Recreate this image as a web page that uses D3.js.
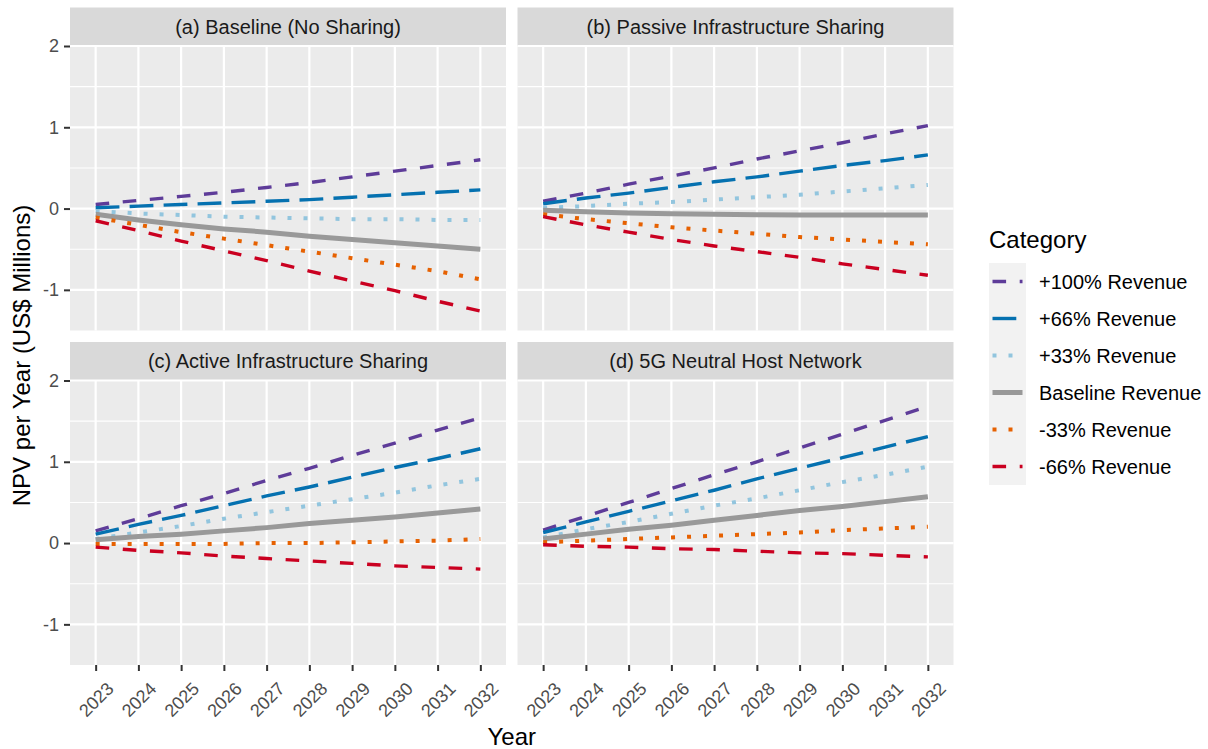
<!DOCTYPE html>
<html>
<head>
<meta charset="utf-8">
<script src="https://cdn.jsdelivr.net/npm/d3@7"></script>
<style>
  body { margin: 0; background: #fff; }
  text { font-family: "Liberation Sans", Arial, Helvetica, sans-serif; }
</style>
</head>
<body>
<div id="chart-area"></div>
<script>
// data
var years = [2023, 2024, 2025, 2026, 2027, 2028, 2029, 2030, 2031, 2032];
var categories = ["+100% Revenue", "+66% Revenue", "+33% Revenue", "Baseline Revenue", "-33% Revenue", "-66% Revenue"];
var panelTitles = ["(a) Baseline (No Sharing)", "(b) Passive Infrastructure Sharing",
                   "(c) Active Infrastructure Sharing", "(d) 5G Neutral Host Network"];
var yTicks = [-1, 0, 1, 2];

// one row per category, in the order of categories
var panelA = [
  [0.05, 0.10, 0.15, 0.20, 0.26, 0.32, 0.39, 0.46, 0.53, 0.60],
  [0.01, 0.03, 0.05, 0.07, 0.09, 0.11, 0.14, 0.17, 0.20, 0.23],
  [-0.03, -0.06, -0.08, -0.10, -0.11, -0.12, -0.13, -0.13, -0.14, -0.14],
  [-0.07, -0.14, -0.20, -0.25, -0.29, -0.34, -0.38, -0.42, -0.46, -0.50],
  [-0.11, -0.20, -0.29, -0.37, -0.45, -0.53, -0.61, -0.69, -0.77, -0.87],
  [-0.15, -0.27, -0.40, -0.52, -0.64, -0.77, -0.89, -1.01, -1.14, -1.26]
];
var panelB = [
  [0.09, 0.19, 0.30, 0.40, 0.50, 0.61, 0.71, 0.81, 0.92, 1.02],
  [0.06, 0.13, 0.19, 0.26, 0.33, 0.39, 0.46, 0.53, 0.59, 0.66],
  [0.01, 0.03, 0.06, 0.08, 0.11, 0.14, 0.17, 0.21, 0.25, 0.29],
  [-0.02, -0.04, -0.055, -0.065, -0.07, -0.075, -0.08, -0.08, -0.08, -0.08],
  [-0.07, -0.13, -0.18, -0.23, -0.27, -0.31, -0.35, -0.38, -0.41, -0.44],
  [-0.10, -0.20, -0.29, -0.38, -0.46, -0.53, -0.60, -0.68, -0.75, -0.82]
];
var panelC = [
  [0.15, 0.30, 0.46, 0.61, 0.77, 0.92, 1.08, 1.23, 1.39, 1.54],
  [0.11, 0.23, 0.34, 0.46, 0.58, 0.69, 0.81, 0.93, 1.04, 1.16],
  [0.05, 0.13, 0.21, 0.30, 0.38, 0.46, 0.54, 0.62, 0.71, 0.79],
  [0.04, 0.08, 0.11, 0.15, 0.19, 0.24, 0.28, 0.32, 0.37, 0.42],
  [-0.01, -0.01, -0.01, -0.01, 0.00, 0.00, 0.01, 0.02, 0.03, 0.05],
  [-0.05, -0.09, -0.12, -0.16, -0.19, -0.22, -0.25, -0.28, -0.30, -0.32]
];
var panelD = [
  [0.16, 0.33, 0.50, 0.67, 0.84, 1.00, 1.17, 1.34, 1.51, 1.68],
  [0.13, 0.26, 0.39, 0.52, 0.65, 0.79, 0.92, 1.05, 1.18, 1.31],
  [0.07, 0.17, 0.26, 0.36, 0.46, 0.55, 0.65, 0.75, 0.84, 0.94],
  [0.05, 0.11, 0.17, 0.22, 0.28, 0.34, 0.40, 0.45, 0.51, 0.57],
  [0.01, 0.03, 0.05, 0.07, 0.09, 0.11, 0.13, 0.16, 0.18, 0.20],
  [-0.02, -0.04, -0.05, -0.07, -0.08, -0.10, -0.12, -0.13, -0.15, -0.17]
];
var panels = [panelA, panelB, panelC, panelD];

// line styles per category
var colors = ["#5E3C99", "#0571B0", "#92C5DE", "#999999", "#E66101", "#CA0020"];
var dashes = ["13.6,13.6", "23.8,10.2", "4,12", null, "4,12", "13.6,13.6"];
var widths = [3.4, 3.4, 4, 5, 4, 3.4];

var width = 1208, height = 749;
var svg = d3.select("#chart-area").append("svg")
    .attr("width", width)
    .attr("height", height);

// panel layout
var colX = [70, 517.5], pw = 436;
var stripY = [7.5, 342], stripH = 38.5, ph = 284.5;

var x = d3.scaleLinear().domain([2022.4, 2032.6]).range([0, pw]);
var y = d3.scaleLinear().domain([-1.5, 2]).range([ph, 0]);

var line = d3.line()
    .x(function(d, i){ return x(years[i]); })
    .y(function(d){ return y(d); });

// plain hyphen for negatives, like the original
var fmt = function(d){ return (d < 0 ? "-" : "") + Math.abs(d); };

panels.forEach(function(pdata, p) {
    var col = p % 2, row = Math.floor(p / 2);
    var g = svg.append("g")
        .attr("transform", "translate(" + colX[col] + "," + (stripY[row] + stripH) + ")");

    // strip
    g.append("rect")
        .attr("x", 0).attr("y", -stripH)
        .attr("width", pw).attr("height", stripH)
        .attr("fill", "#D9D9D9");
    g.append("text")
        .attr("x", pw / 2).attr("y", -stripH / 2)
        .attr("dy", "0.35em")
        .attr("text-anchor", "middle")
        .attr("font-size", "20px")
        .attr("fill", "#1A1A1A")
        .text(panelTitles[p]);

    // panel background
    g.append("rect")
        .attr("width", pw).attr("height", ph)
        .attr("fill", "#EBEBEB");

    // minor grid
    g.selectAll(".minor").data([-0.5, 0.5, 1.5]).enter().append("line")
        .attr("x1", 0).attr("x2", pw)
        .attr("y1", function(d){ return y(d); })
        .attr("y2", function(d){ return y(d); })
        .attr("stroke", "#fff").attr("stroke-width", 1.1);

    // major grid
    g.selectAll(".hmajor").data(yTicks).enter().append("line")
        .attr("x1", 0).attr("x2", pw)
        .attr("y1", function(d){ return y(d); })
        .attr("y2", function(d){ return y(d); })
        .attr("stroke", "#fff").attr("stroke-width", 2.2);
    g.selectAll(".vmajor").data(years).enter().append("line")
        .attr("y1", 0).attr("y2", ph)
        .attr("x1", function(d){ return x(d); })
        .attr("x2", function(d){ return x(d); })
        .attr("stroke", "#fff").attr("stroke-width", 2.2);

    // series
    pdata.forEach(function(vals, c) {
        g.append("path")
            .datum(vals)
            .attr("d", line)
            .attr("fill", "none")
            .attr("stroke", colors[c])
            .attr("stroke-width", widths[c])
            .attr("stroke-dasharray", dashes[c])
            .attr("stroke-linecap", "butt");
    });

    // y axis on left column
    if (col === 0) {
        var yAxis = g.append("g")
            .call(d3.axisLeft(y).tickValues(yTicks).tickSize(6).tickPadding(5).tickFormat(fmt));
        yAxis.select(".domain").remove();
        yAxis.selectAll("line").attr("stroke", "#333").attr("stroke-width", 2);
        yAxis.selectAll("text")
            .attr("fill", "#4D4D4D")
            .attr("font-size", "18px")
            .attr("font-family", "Liberation Sans, Arial, sans-serif");
    }

    // x axis on bottom row
    if (row === 1) {
        var xAxis = g.append("g")
            .attr("transform", "translate(0," + ph + ")")
            .call(d3.axisBottom(x).tickValues(years).tickSize(6).tickFormat(d3.format("d")));
        xAxis.select(".domain").remove();
        xAxis.selectAll("line").attr("stroke", "#333").attr("stroke-width", 2);
        xAxis.selectAll("text")
            .attr("fill", "#4D4D4D")
            .attr("font-size", "18px")
            .attr("font-family", "Liberation Sans, Arial, sans-serif")
            .attr("text-anchor", "middle")
            .attr("dy", "0.35em")
            .attr("y", 0)
            .attr("transform", "translate(0,34.5) rotate(-45)");
    }
});

// axis titles
svg.append("text")
    .attr("x", (colX[0] + colX[1] + pw) / 2)
    .attr("y", 745)
    .attr("text-anchor", "middle")
    .attr("font-size", "24px")
    .text("Year");

svg.append("text")
    .attr("transform", "translate(30," + ((stripY[0] + stripH + stripY[1] + stripH + ph) / 2) + ") rotate(-90)")
    .attr("text-anchor", "middle")
    .attr("font-size", "24px")
    .text("NPV per Year (US$ Millions)");

// legend
var legend = svg.append("g").attr("transform", "translate(989,0)");
legend.append("text")
    .attr("x", 0).attr("y", 248)
    .attr("font-size", "24px")
    .text("Category");

var keyY = d3.scaleBand().domain(categories).range([263, 485]);
legend.append("rect")
    .attr("x", 0).attr("y", 263)
    .attr("width", 37).attr("height", 222)
    .attr("fill", "#F2F2F2");

categories.forEach(function(cat, c) {
    var cy = keyY(cat) + keyY.bandwidth() / 2;
    legend.append("line")
        .attr("x1", 3.5).attr("x2", 33.5)
        .attr("y1", cy).attr("y2", cy)
        .attr("stroke", colors[c])
        .attr("stroke-width", widths[c])
        .attr("stroke-dasharray", dashes[c]);
    legend.append("text")
        .attr("x", 50).attr("y", cy)
        .attr("dy", "0.35em")
        .attr("font-size", "20px")
        .text(cat);
});
</script>
</body>
</html>
